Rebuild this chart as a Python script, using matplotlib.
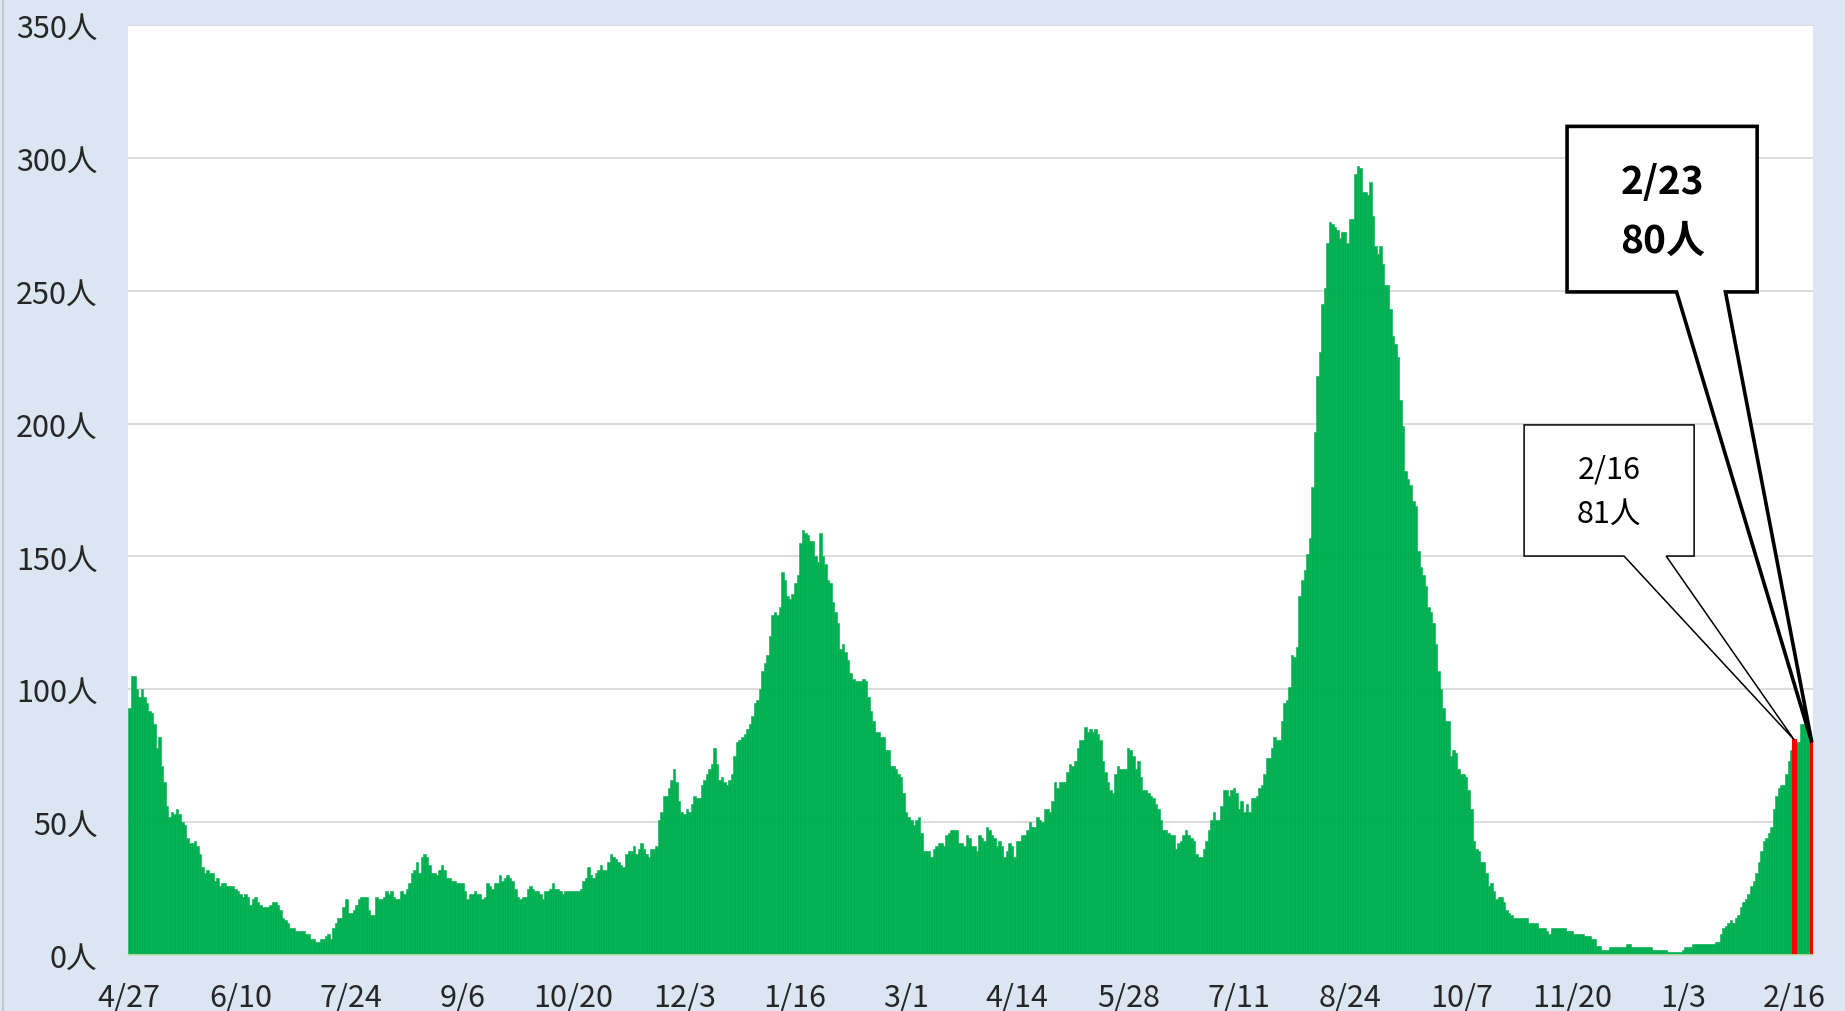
import matplotlib.pyplot as plt
import matplotlib.patches as patches
import numpy as np
import pandas as pd

plt.rcParams['font.family'] = ['Noto Sans CJK JP', 'DejaVu Sans']

start_date = '2020-04-27'
end_date = '2022-02-23'

# daily values, one row per 44-day block between the x-axis labels
cases = [
    93, 105, 105, 100, 97, 100, 97, 95, 92, 91, 87, 78, 82, 71, 65, 56, 52, 54, 53, 55, 53, 50,
    49, 44, 42, 42, 43, 41, 38, 33, 31, 32, 31, 31, 28, 29, 26, 27, 27, 26, 26, 26, 25, 24,
    23, 22, 23, 22, 19, 21, 22, 20, 19, 18, 18, 18, 19, 20, 20, 19, 17, 14, 13, 12, 10, 10,
    9, 9, 9, 9, 8, 8, 6, 6, 5, 5, 6, 6, 7, 8, 6, 10, 12, 14, 14, 18, 21, 16,
    16, 17, 19, 21, 22, 22, 22, 17, 15, 15, 22, 21, 21, 22, 24, 23, 24, 22, 21, 21, 24, 23,
    25, 27, 31, 32, 35, 31, 37, 38, 37, 34, 31, 31, 30, 32, 34, 32, 29, 29, 28, 28, 27, 27,
    27, 24, 21, 23, 23, 24, 23, 23, 21, 22, 27, 26, 25, 27, 27, 30, 28, 29, 30, 29, 28, 25,
    22, 21, 22, 22, 25, 26, 25, 24, 24, 23, 21, 24, 24, 25, 27, 25, 25, 24, 23, 24, 24, 24,
    24, 24, 24, 25, 28, 29, 33, 30, 29, 31, 32, 34, 32, 32, 35, 38, 37, 36, 35, 34, 33, 38,
    39, 39, 41, 38, 40, 42, 40, 38, 37, 40, 40, 41, 51, 54, 60, 60, 63, 66, 70, 65, 58, 54,
    53, 55, 54, 57, 60, 59, 59, 64, 66, 68, 70, 72, 78, 72, 66, 67, 65, 64, 66, 68, 75, 80,
    81, 82, 83, 85, 87, 90, 95, 96, 100, 107, 110, 113, 120, 128, 129, 128, 131, 144, 141, 135, 134, 136,
    140, 143, 155, 160, 159, 158, 156, 156, 150, 148, 159, 150, 147, 141, 140, 133, 129, 125, 115, 117, 114, 111,
    106, 104, 103, 103, 103, 104, 103, 97, 92, 88, 84, 84, 82, 82, 77, 77, 71, 71, 70, 68, 67, 61,
    54, 52, 51, 49, 51, 52, 46, 39, 39, 39, 37, 40, 41, 42, 42, 41, 45, 46, 47, 47, 47, 42,
    42, 41, 45, 44, 41, 41, 39, 45, 44, 43, 48, 47, 45, 44, 41, 43, 41, 37, 39, 42, 41, 37,
    43, 43, 45, 45, 47, 50, 48, 48, 52, 51, 50, 55, 55, 54, 58, 65, 63, 65, 65, 65, 69, 72,
    71, 73, 78, 81, 81, 86, 84, 85, 84, 85, 83, 81, 73, 69, 65, 62, 61, 68, 71, 70, 70, 70,
    78, 77, 75, 70, 73, 67, 62, 62, 61, 60, 59, 57, 55, 51, 47, 47, 46, 45, 45, 40, 42, 43,
    45, 47, 45, 44, 43, 38, 37, 37, 40, 43, 47, 51, 54, 51, 51, 56, 62, 62, 60, 62, 63, 61,
    55, 58, 54, 57, 54, 59, 59, 60, 63, 64, 68, 74, 74, 78, 82, 81, 81, 88, 95, 96, 101, 113,
    112, 116, 135, 141, 145, 151, 157, 176, 197, 218, 227, 245, 251, 268, 276, 275, 274, 273, 270, 272, 272, 268,
    277, 277, 294, 297, 296, 287, 287, 286, 291, 278, 267, 264, 267, 260, 252, 252, 243, 233, 230, 225, 209, 199,
    182, 179, 177, 171, 169, 152, 146, 143, 139, 131, 129, 125, 117, 107, 100, 93, 88, 88, 75, 77, 76, 70,
    68, 68, 67, 62, 55, 43, 40, 39, 35, 35, 31, 26, 27, 24, 21, 22, 22, 20, 17, 16, 15, 14,
    14, 14, 14, 14, 14, 12, 12, 12, 12, 10, 10, 10, 9, 8, 10, 10, 10, 10, 10, 10, 9, 9,
    9, 8, 8, 8, 8, 7, 7, 7, 6, 6, 3.5, 3.5, 2, 2, 2, 3, 3, 3, 3, 3, 3, 3,
    4, 4, 3, 3, 3, 3, 3, 3, 3, 3, 2, 2, 2, 2, 2, 2, 1, 1, 1, 1, 1, 1,
    2, 3, 3, 3, 4, 4, 4, 4, 4, 4, 4, 4, 4, 5, 5, 8, 10, 11, 12, 13, 12, 14,
    15, 18, 20, 21, 23, 26, 28, 31, 35, 39, 43, 44, 46, 48, 55, 60, 63, 64, 64, 68, 73, 77,
    81, 80, 80, 87, 87, 85, 84, 80,
]

highlight_dates = ['2022-02-16', '2022-02-23']
label_step = 44
y_ticks = [0, 50, 100, 150, 200, 250, 300, 350]

dates = pd.date_range(start_date, end_date, freq='D')
values = np.array(cases, dtype=float)
idx = np.arange(len(values))

bg = '#dce6f2'
green = '#00b050'

fig = plt.figure(figsize=(18.45, 10.12), dpi=100, facecolor=bg)
ax = fig.add_axes([0.0694, 0.0553, 0.9133, 0.919])
ax.set_facecolor('white')

ax.bar(idx, values, width=1.0, color=green, edgecolor=green, linewidth=0.4, zorder=2)

# highlighted days in red
hi = [dates.get_loc(pd.Timestamp(d)) for d in highlight_dates]
ax.bar(hi, values[hi], width=1.0, color='red', edgecolor='red', linewidth=2.2, zorder=3)

ax.set_xlim(-0.5, len(values) - 0.5)
ax.set_ylim(0, 350)
ax.set_yticks(y_ticks)
ax.set_yticklabels([f'{v}人' for v in y_ticks])
ticks = idx[::label_step]
ax.set_xticks(ticks)
ax.set_xticklabels([f'{dates[i].month}/{dates[i].day}' for i in ticks])
ax.tick_params(axis='y', length=0, pad=22, labelsize=22, colors='#262626')
ax.tick_params(axis='x', length=0, pad=19, labelsize=22, colors='#262626')
ax.grid(axis='y', color='#d9d9d9', linewidth=1.3, zorder=0)
ax.set_axisbelow(True)
for side in ['left', 'right', 'top']:
    ax.spines[side].set_visible(False)
ax.spines['bottom'].set_color('#c6e0b4')
ax.spines['bottom'].set_linewidth(1.2)
ax.spines['bottom'].set_zorder(4)

fig.add_artist(plt.Line2D([0.0016, 0.0016], [0, 1], color='#bfbfbf', linewidth=1.2))


def callout(ax, box, base, tip, lw, texts, fontsize, weight):
    x0, y0, x1, y1 = box
    bx0, bx1 = base
    tx, ty = ax.transAxes.inverted().transform(ax.transData.transform(tip))
    verts = [(x0, y0), (x0, y1), (x1, y1), (x1, y0), (bx1, y0), (tx, ty), (bx0, y0)]
    poly = patches.Polygon(verts, closed=True, transform=ax.transAxes,
                           facecolor='white', edgecolor='black', linewidth=lw,
                           joinstyle='miter', clip_on=False, zorder=5)
    ax.add_patch(poly)
    xc = (x0 + x1) / 2
    for ty_txt, s in texts:
        ax.text(xc, ty_txt, s, transform=ax.transAxes, ha='center', va='center',
                fontsize=fontsize, fontweight=weight, color='black', zorder=6)


callout(ax, (0.8285, 0.429, 0.9294, 0.570), (0.8878, 0.9128),
        (hi[0], values[hi[0]]), 1.1,
        [(0.523, '2/16'), (0.475, '81人')], 22, 'normal')
callout(ax, (0.854, 0.713, 0.9668, 0.891), (0.919, 0.948),
        (hi[1], values[hi[1]]), 2.6,
        [(0.832, '2/23'), (0.769, '80人')], 28, 'bold')

fig.savefig('out.png', dpi=100, facecolor=bg)
